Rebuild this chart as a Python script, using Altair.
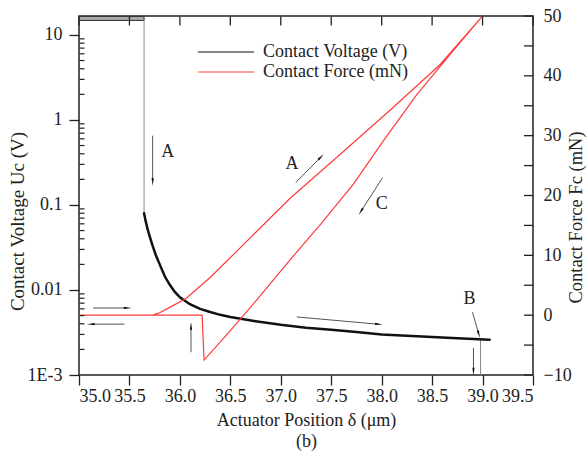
import math
import altair as alt
import pandas as pd

SERIF = "Liberation Serif"
RED = "#ff3a3a"
INK = "#222222"

# ---- axis ranges -------------------------------------------------------
X_MIN, X_MAX = 35.0, 39.5          # actuator position (um)
U_MIN, U_MAX = 0.001, 16.7         # contact voltage (V), log scale
F_MIN, F_MAX = -10.0, 50.0         # contact force (mN)

# ---- contact voltage ---------------------------------------------------
# open contact: supply voltage saturates the channel (noisy band)
sat_x = [35.0]
sat_x2 = [35.645]
sat_lo = [14.8]
sat_hi = [16.5]

# contact closes (A): voltage collapses and then decays while pressed
volt_x = [35.645, 35.66, 35.68, 35.70, 35.73, 35.76, 35.80, 35.85, 35.90,
          35.95, 36.00, 36.10, 36.20, 36.30, 36.40, 36.50, 36.75, 37.00,
          37.25, 37.50, 37.75, 38.00, 38.25, 38.50, 38.75, 39.07]
volt_u = [0.080, 0.065, 0.052, 0.043, 0.033, 0.026, 0.020, 0.0145, 0.0115,
          0.0095, 0.0082, 0.0068, 0.0060, 0.0055, 0.0051, 0.0048, 0.0043,
          0.0039, 0.0036, 0.0034, 0.0032, 0.0030, 0.0029, 0.0028, 0.0027,
          0.0026]

# vertical transitions: closing at A, opening at B
drop_seg = [1, 1, 2, 2]
drop_x = [35.645, 35.645, 38.98, 38.98]
drop_u = [15.0, 0.080, 0.0026, 0.0009]

# ---- contact force: loading (A), unloading (C), adhesion snap-off -------
force_x = [35.00, 35.73, 35.80, 35.90, 36.06, 36.30, 36.60, 37.09, 37.59,
           38.08, 38.58, 38.99,
           38.71, 38.35, 38.02, 37.72, 37.40, 37.09, 36.76, 36.50, 36.24,
           36.22, 35.00]
force_f = [0.0, 0.0, 0.4, 1.3, 2.8, 6.3, 11.3, 19.5, 26.9,
           34.2, 41.9, 49.8,
           44.2, 36.9, 29.2, 21.9, 15.3, 9.2, 2.5, -2.6, -7.5,
           0.0, 0.0]

# ---- arrows and labels (force coordinates) -----------------------------
arr_x0 = [35.14, 35.45, 36.11, 35.73, 37.15, 38.01, 37.16, 38.90, 38.91]
arr_f0 = [1.2, -1.5, -6.2, 30.0, 22.2, 23.0, -0.3, 0.5, -5.5]
arr_x1 = [35.47, 35.13, 36.11, 35.73, 37.39, 37.80, 37.96, 38.96, 38.91]
arr_f1 = [1.2, -1.5, -2.0, 22.5, 26.3, 17.5, -1.5, -3.0, -9.2]

lab_text = ["A", "A", "C", "B"]
lab_x = [35.88, 37.11, 38.00, 38.87]
lab_f = [27.2, 25.3, 18.5, 2.7]

SERIES_U = "Contact Voltage (V)"
SERIES_F = "Contact Force (mN)"

# ---- tick positions ----------------------------------------------------
x_ticks = [35.0 + 0.5 * k for k in range(10)]
u_ticks = [0.001, 0.01, 0.1, 1, 10]
u_minor = [m * 10 ** e for e in range(-3, 2) for m in range(2, 10)
           if m * 10 ** e <= U_MAX]
f_ticks = list(range(-10, 55, 5))

# ---- tables ------------------------------------------------------------
sat_df = pd.DataFrame({"x": sat_x, "x2": sat_x2, "u": sat_lo, "u2": sat_hi})
volt_df = pd.DataFrame({"x": volt_x, "u": volt_u, "series": SERIES_U})
drop_df = pd.DataFrame({"x": drop_x, "u": drop_u, "seg": drop_seg})
force_df = pd.DataFrame({"x": force_x, "f": force_f, "i": range(len(force_x)),
                         "series": SERIES_F})
top_tick_df = pd.DataFrame({"x": x_ticks})
minor_tick_df = pd.DataFrame({"u": u_minor})
right_tick_df = pd.DataFrame({"f": f_ticks})

# arrow head orientation follows the shaft direction on screen
W, H = 454, 359
px_per_x = W / (X_MAX - X_MIN)
px_per_f = H / (F_MAX - F_MIN)
angles = []
for a, b, c, d in zip(arr_x0, arr_f0, arr_x1, arr_f1):
    dx = (c - a) * px_per_x
    dy = (d - b) * px_per_f
    angles.append(math.degrees(math.atan2(dx, dy)) % 360)
arrow_df = pd.DataFrame({"x": arr_x0, "f": arr_f0, "x2": arr_x1, "f2": arr_f1,
                         "ang": angles})
label_df = pd.DataFrame({"x": lab_x, "f": lab_f, "t": lab_text})

# ---- scales & axes -----------------------------------------------------
xscale = alt.Scale(domain=[X_MIN, X_MAX], nice=False, zero=False)
uscale = alt.Scale(type="log", domain=[U_MIN, U_MAX], nice=False)
fscale = alt.Scale(domain=[F_MIN, F_MAX], nice=False, zero=False)

x_bottom = alt.X("x:Q", scale=xscale, axis=alt.Axis(
    orient="bottom", values=x_ticks, format=".1f", tickSize=10,
    domain=False, labelPadding=2, title=["Actuator Position δ (μm)", "(b)"],
    titlePadding=6, titleLineHeight=21))
x_none = alt.X("x:Q", scale=xscale, axis=None)

u_left = alt.Y("u:Q", scale=uscale, axis=alt.Axis(
    orient="left", values=u_ticks, tickSize=10, domain=False, labelPadding=7,
    labelExpr="datum.value < 0.002 ? '1E-3' : format(datum.value, '~g')",
    title="Contact Voltage Uc (V)", titlePadding=0, titleY=205,
    titleFontSize=19))
u_plain = alt.Y("u:Q", scale=uscale, axis=None)

f_axis = alt.Axis(
    orient="right", values=f_ticks, ticks=False, domain=False,
    labelPadding=10,
    labelExpr="datum.value % 10 === 0 ? datum.label : ''",
    title="Contact Force Fc (mN)", titleAngle=270, titleBaseline="top",
    titleX=33, titleY=201, titleFontSize=18.5)
f_right = alt.Y("f:Q", scale=fscale, axis=f_axis)
f_plain = alt.Y("f:Q", scale=fscale, axis=None)

LINE_PATH = "M-3,0H3"
color = alt.Color("series:N", scale=alt.Scale(domain=[SERIES_U, SERIES_F],
                                              range=["#111111", RED]),
                  legend=alt.Legend(
                      orient="none", legendX=137, legendY=26, title=None,
                      symbolType=LINE_PATH, symbolSize=350,
                      symbolStrokeWidth=1.2, labelOffset=27, rowPadding=1,
                      padding=0, labelFont=SERIF, labelFontSize=18,
                      labelColor=INK))

# ---- voltage layers (log scale, left) ----------------------------------
band = alt.Chart(sat_df).mark_rect(
    fill="#a8a8a8", stroke="#333333", strokeWidth=1, clip=True
).encode(x=x_bottom, x2="x2:Q", y=u_left, y2="u2:Q")

drops = alt.Chart(drop_df).mark_line(
    color="#8a8a8a", strokeWidth=1, clip=True
).encode(x=x_bottom, y=u_left, detail="seg:N")

volt_curve = alt.Chart(volt_df).mark_line(
    strokeWidth=2.5, clip=True, strokeCap="round"
).encode(x=x_bottom, y=u_left, color=color)

volt_group = alt.layer(band, drops, volt_curve)

# ---- force layers (linear scale, right) --------------------------------
force_line = alt.Chart(force_df).mark_line(
    strokeWidth=1.2, clip=True
).encode(x=x_none, y=f_right, order="i:Q", color=color)

shafts = alt.Chart(arrow_df).mark_rule(
    color="#555555", strokeWidth=1
).encode(x=x_none, y=f_plain, x2="x2:Q", y2="f2:Q")

heads = alt.Chart(arrow_df).mark_point(
    shape="wedge", filled=True, color="#111111", size=80, opacity=1
).encode(x=alt.X("x2:Q", scale=xscale, axis=None),
         y=alt.Y("f2:Q", scale=fscale, axis=None),
         angle=alt.Angle("ang:Q", scale=None))

labels = alt.Chart(label_df).mark_text(
    font=SERIF, fontSize=18, color=INK
).encode(x=x_none, y=f_plain, text="t:N")

# frame ticks pointing into the plot: force axis, top edge, log minor ticks
right_ticks = alt.Chart(right_tick_df).mark_rule(
    color=INK, strokeWidth=1.3
).encode(y=f_plain, x=alt.value(W - 9), x2=alt.value(W))

top_ticks = alt.Chart(top_tick_df).mark_rule(
    color=INK, strokeWidth=1.3
).encode(x=x_none, y=alt.value(0.5), y2=alt.value(9.5))

minor_ticks = alt.Chart(minor_tick_df).mark_rule(
    color=INK, strokeWidth=1.2
).encode(y=u_plain, x=alt.value(0.5), x2=alt.value(5.5))

force_group = alt.layer(
    force_line, shafts, heads, labels, right_ticks, top_ticks, minor_ticks
).resolve_scale(y="independent").resolve_axis(y="independent")

chart = alt.layer(volt_group, force_group).resolve_scale(
    y="independent"
).resolve_axis(
    x="independent", y="independent"
).properties(
    width=W, height=H,
    autosize=alt.AutoSizeParams(type="none"),
    padding={"left": 79, "top": 16, "right": 55, "bottom": 89},
    background="white",
).configure_view(
    stroke=INK, strokeWidth=1.5
).configure_axis(
    grid=False, tickColor=INK, tickWidth=1.3, labelFont=SERIF,
    labelFontSize=18, labelColor=INK, titleFont=SERIF, titleFontSize=18,
    titleFontWeight="normal", titleColor=INK
)

chart.save("out.html", embed_options={"renderer": "svg", "actions": False})
